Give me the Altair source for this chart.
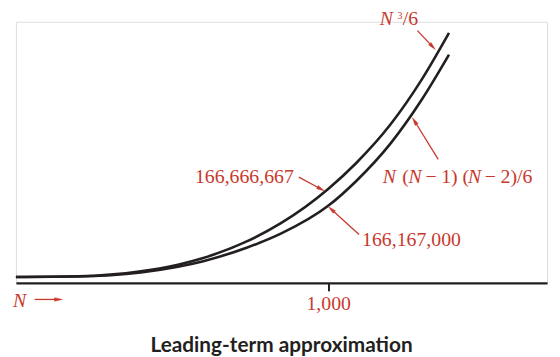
import math
import altair as alt
import pandas as pd

# ---------------- data ----------------
# N values and function values (in millions)
n_upper = [0, 200, 400, 519, 600, 741, 850, 1000, 1090, 1200, 1300, 1387]
v_upper = [0, 1.3, 10.7, 23.3, 36.0, 67.8, 102.4, 166.7, 215.8, 289.0, 374.0, 462.0]
n_lower = [0, 200, 400, 519, 600, 741, 850, 1000, 1090, 1200, 1300, 1387]
v_lower = [0, 1.0, 8.7, 19.5, 30.0, 55.8, 82.4, 134.7, 181.8, 253.0, 336.0, 421.0]
series_names = ["N^3/6", "N(N-1)(N-2)/6"]
x_ticks = [1000]

# ---------------- layout / styling ----------------
RED = "#c8382d"
DARK = "#231f20"
W, H = 537, 264
XDOM = [0, 1701]
YDOM = [-11.2, 483.1]
SX = W / (XDOM[1] - XDOM[0])
SY = H / (YDOM[1] - YDOM[0])

curves = pd.concat([
    pd.DataFrame({"n": n_upper, "v": v_upper, "s": series_names[0]}),
    pd.DataFrame({"n": n_lower, "v": v_lower, "s": series_names[1]}),
])

xscale = alt.Scale(domain=XDOM, nice=False, zero=False)
yscale = alt.Scale(domain=YDOM, nice=False, zero=False)
xaxis = alt.Axis(values=x_ticks, format=",d", labelFont="Liberation Serif",
                 labelFontSize=20, labelColor=RED, labelPadding=3,
                 tickSize=8, tickWidth=2, tickColor=DARK,
                 domainColor=DARK, domainWidth=2.4, grid=False, title=None)


def X(field="n"):
    return alt.X(f"{field}:Q", scale=xscale, axis=xaxis)


def Y(field="v"):
    return alt.Y(f"{field}:Q", scale=yscale, axis=None)


lines = alt.Chart(curves).mark_line(
    color=DARK, strokeWidth=2.6, interpolate="monotone", clip=False
).encode(x=X(), y=Y(), detail="s:N")

# ---------------- annotations ----------------
# arrows: start and tip, in data units (N, millions)
arrows = pd.DataFrame({
    "n0": [1286, 1352.5, 906, 1099, 60],
    "v0": [466.3, 222.8, 189.1, 80.5, -42.5],
    "n1": [1343, 1270, 988, 1001, 149],
    "v1": [430.7, 301.5, 162.9, 133.0, -42.5],
})


def arrow_geometry(df):
    rows_line, rows_head = [], []
    for _, r in df.iterrows():
        dxp = (r.n1 - r.n0) * SX
        dyp = -(r.v1 - r.v0) * SY
        L = math.hypot(dxp, dyp)
        ux, uy = dxp / L, dyp / L
        ang = math.degrees(math.atan2(ux, -uy)) % 360
        back_line = 3.0
        back_head = 4.0
        rows_line.append({
            "n0": r.n0, "v0": r.v0,
            "n1": r.n1 - ux * back_line / SX,
            "v1": r.v1 + uy * back_line / SY,
        })
        rows_head.append({
            "n": r.n1 - ux * back_head / SX,
            "v": r.v1 + uy * back_head / SY,
            "ang": ang,
        })
    return pd.DataFrame(rows_line), pd.DataFrame(rows_head)


arrow_lines, arrow_heads = arrow_geometry(arrows)

arrow_rules = alt.Chart(arrow_lines).mark_rule(color=RED, strokeWidth=1.3).encode(
    x=X("n0"), y=Y("v0"), x2="n1:Q", y2="v1:Q")
arrow_tips = alt.Chart(arrow_heads).mark_point(
    shape="M0,-1L0.45,1L-0.45,1Z", filled=True, size=64,
    fill=RED, stroke=RED, strokeWidth=0.4, opacity=1
).encode(x=X(), y=Y(), angle=alt.Angle("ang:Q", scale=None))

upright = pd.DataFrame({
    "t": ["166,167,000", "(", "\u2212", "1)", "(", "\u2212", "2)", "/6", "/6"],
    "n": [1108.6, 1237.2, 1311.5, 1362.0, 1430.5, 1501.5, 1552.2, 1604.5, 1238.5],
    "v": [58.1, 177.9, 177.9, 177.9, 177.9, 177.9, 177.9, 177.9, 476.6],
})
upright_right = pd.DataFrame({"t": ["166,666,667"], "n": [890], "v": [177.9]})
italic = pd.DataFrame({
    "t": ["N", "N", "N", "N", "N"],
    "n": [1175, 1257.2, 1447.9, 1165.0, -9.5],
    "v": [177.9, 177.9, 177.9, 476.6, -56.2],
})
sup = pd.DataFrame({"t": ["3"], "n": [1222], "v": [488.8]})


def text_layer(df, italic_style=False, size=20, align="left"):
    return alt.Chart(df).mark_text(
        font="Liberation Serif", fontSize=size,
        fontStyle="italic" if italic_style else "normal",
        color=RED, align=align, baseline="alphabetic"
    ).encode(x=X(), y=Y(), text="t:N")


chart = alt.layer(
    lines,
    arrow_rules,
    arrow_tips,
    text_layer(upright),
    text_layer(upright_right, align="right"),
    text_layer(italic, italic_style=True),
    text_layer(sup, size=10),
).properties(
    width=W, height=H,
    autosize=alt.AutoSizeParams(type="none"),
    padding={"left": 8, "top": 12, "right": 5, "bottom": 77},
    title=alt.TitleParams("Leading-term approximation", orient="bottom",
                          font="Lato", fontSize=21, fontWeight="bold",
                          color=DARK, anchor="middle", offset=22),
).configure_view(stroke=None).configure(background="white")

chart.save("out.html", embed_options={"renderer": "svg", "actions": False})
